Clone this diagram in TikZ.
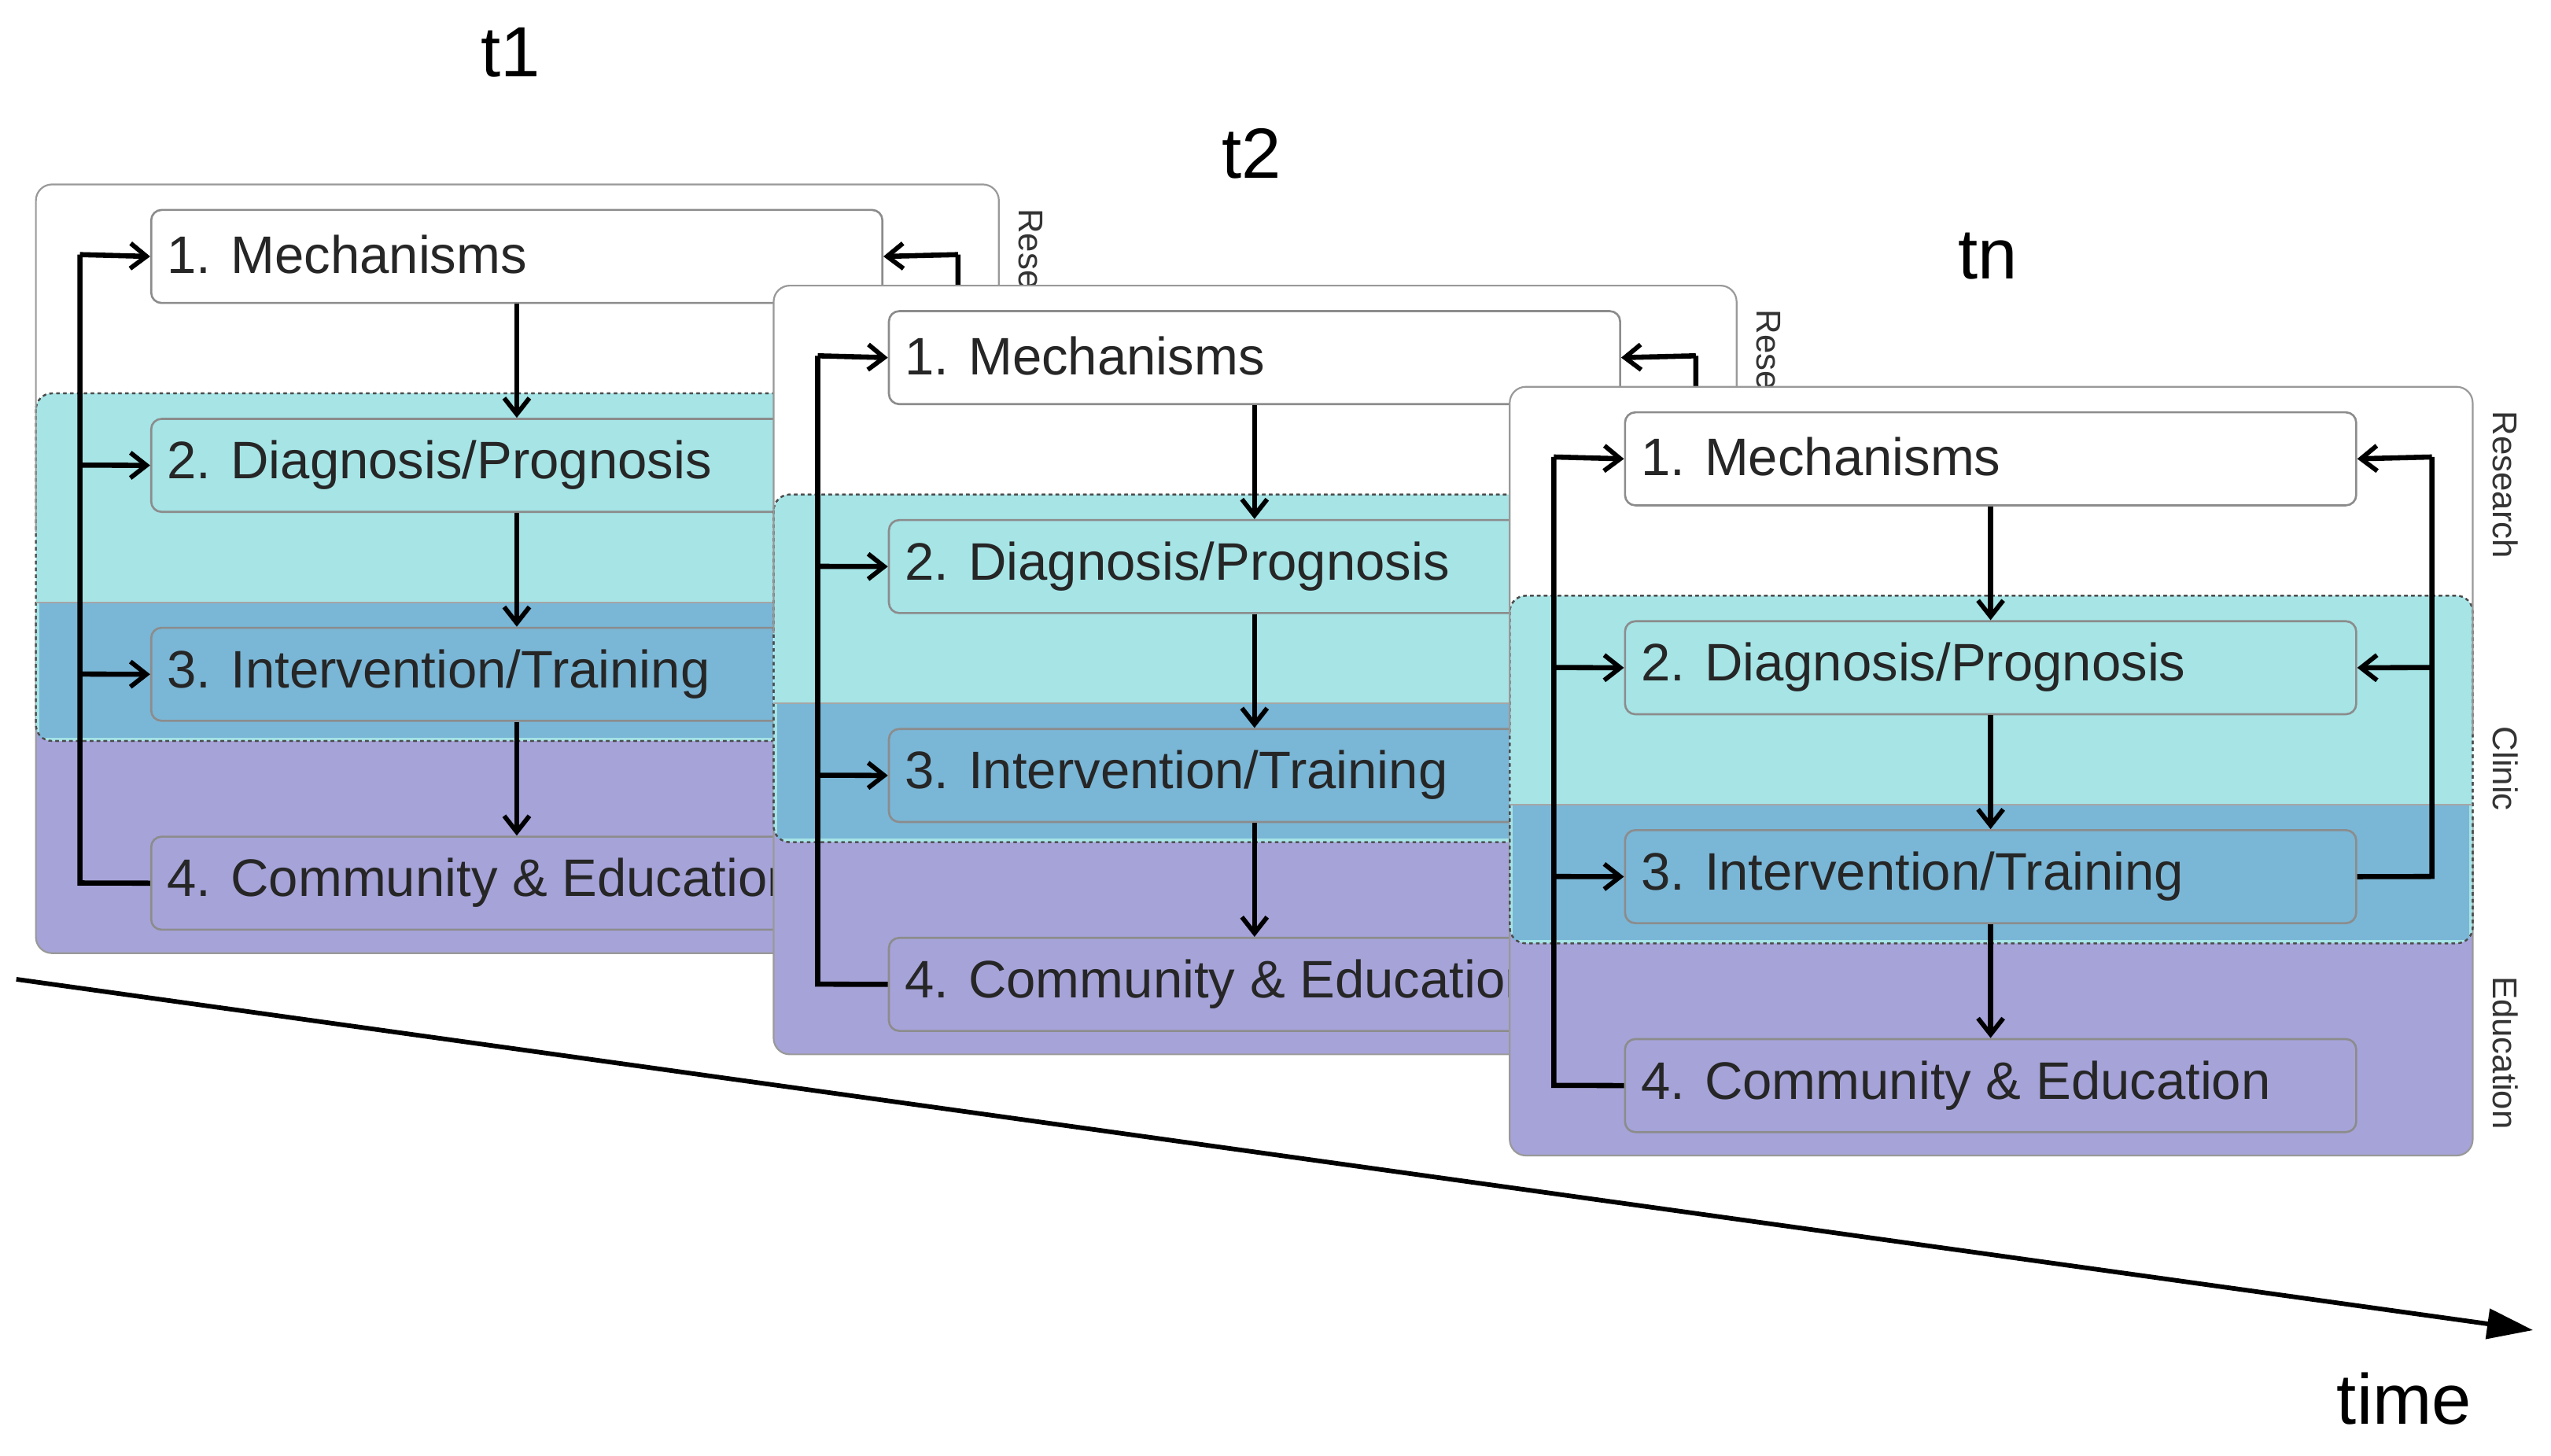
\documentclass[tikz,border=0pt]{standalone}
\usepackage{fontspec}
\setmainfont{Liberation Sans}
\usetikzlibrary{arrows.meta}
\begin{document}
\begin{tikzpicture}[x=0.05cm,y=-0.05cm,
  lbl/.style={font=\fontsize{46}{50}\selectfont, text=black!85},
  inbox/.style={draw=black!45, line width=1.8pt, rounded corners=9pt, minimum width=448*0.05cm, minimum height=57*0.05cm, inner sep=0pt},
  flow/.style={line width=4.5pt, -{Straight Barb[length=14pt,width=22pt,line width=4pt]}},
  loop/.style={line width=4.5pt},
  side/.style={font=\fontsize{30}{32}\selectfont, rotate=-90, text=black!80},
  tlab/.style={font=\fontsize{62}{66}\selectfont\addfontfeatures{FakeStretch=1}},
]
\definecolor{cyanb}{HTML}{A6E4E6}
\definecolor{blueb}{HTML}{7AB6D6}
\definecolor{purb}{HTML}{A6A3D9}
\useasboundingbox (0,0) rectangle (1563,892);
\newcommand\mypanel[2]{%
\begin{scope}[shift={(#1)}]
  \fill[white] (925,237) rectangle (1515,500);
  \draw[draw=black!40,fill=purb,line width=1.5pt,rounded corners=14pt] (925,493) rectangle (1515,708);
  \draw[draw=black!70,fill=cyanb,line width=1.5pt,dashed,rounded corners=14pt] (925,365) rectangle (1515,578);
  \fill[blueb] (927,493) rectangle (1513,576);
  \draw[black!70,line width=1.5pt,dashed,rounded corners=14pt] (925,365) rectangle (1515,578);
  \draw[black!40,line width=1.5pt,rounded corners=14pt] (925,450) -- (925,237) -- (1515,237) -- (1515,450);
  \draw[black!35,line width=1.2pt,rounded corners=14pt] (925,493) -- (1515,493);
  \node[inbox,fill=white,anchor=north west] (#2m) at (995,252) {};
  \node[inbox,fill=cyanb,anchor=north west] (#2d) at (995,380) {};
  \node[inbox,fill=blueb,anchor=north west] (#2i) at (995,508) {};
  \node[inbox,fill=purb,anchor=north west] (#2c) at (995,636) {};
  \node[lbl,anchor=west] (#2mt) at (1003,280) {1. Mechanisms};
  \node[lbl,anchor=west] (#2dt) at (1003,409) {2. Diagnosis/Prognosis};
  \node[lbl,anchor=west] (#2it) at (1003,537) {3. Intervention/Training};
  \node[lbl,anchor=west] (#2ct) at (1003,665) {4. Community \& Education};
  \draw[flow] (#2m.south) -- (#2d.north);
  \draw[flow] (#2d.south) -- (#2i.north);
  \draw[flow] (#2i.south) -- (#2c.north);
  \coordinate (#2L) at (952,665);
  \coordinate (#2R) at (1490,537);
  \draw[loop] (#2c.west) -- (#2L) -- (952,280);
  \draw[flow] (952,280) -- (#2m.west);
  \draw[flow] (952,409) -- (#2d.west);
  \draw[flow] (952,537) -- (#2i.west);
  \draw[loop] (#2i.east) -- (#2R) -- (1490,280);
  \draw[flow] (1490,280) -- (#2m.east);
  \draw[flow] (1490,409) -- (#2d.east);
  \node[side] (#2sr) at (1535,297) {Research};
  \node[side] (#2sc) at (1535,471) {Clinic};
  \node[side] (#2se) at (1535,645) {Education};
\end{scope}}
\mypanel{-903,-124}{a}
\mypanel{-451,-62}{b}
\mypanel{0,0}{c}
\node[tlab] (t1) at (313,32) {t1};
\node[tlab] (t2) at (767,94) {t2};
\node[tlab] (tn) at (1218,157) {tn};
\coordinate (ts) at (10,600);
\coordinate (te) at (1552,815);
\draw[line width=4pt,-{Triangle[length=40pt,width=26pt]}] (ts) -- (te);
\node[tlab] (time) at (1473,857) {time};
\end{tikzpicture}
\end{document}
